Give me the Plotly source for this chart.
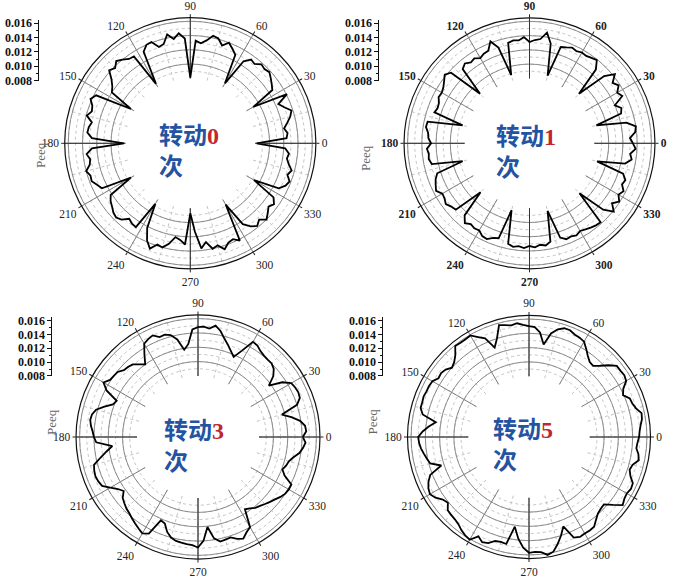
import plotly.graph_objects as go

# ---------------- data ----------------
THETA = [0, 3, 6, 9, 12, 15, 18, 21, 24, 27, 30, 33, 36, 39, 42, 45, 48, 51, 54, 57,
         60, 63, 66, 69, 72, 75, 78, 81, 84, 87, 90, 93, 96, 99, 102, 105, 108, 111, 114, 117,
         120, 123, 126, 129, 132, 135, 138, 141, 144, 147, 150, 153, 156, 159, 162, 165, 168, 171, 174, 177,
         180, 183, 186, 189, 192, 195, 198, 201, 204, 207, 210, 213, 216, 219, 222, 225, 228, 231, 234, 237,
         240, 243, 246, 249, 252, 255, 258, 261, 264, 267, 270, 273, 276, 279, 282, 285, 288, 291, 294, 297,
         300, 303, 306, 309, 312, 315, 318, 321, 324, 327, 330, 333, 336, 339, 342, 345, 348, 351, 354, 357]

PEEQ_0 = [0.0082, 0.0124, 0.0126, 0.0122, 0.0128, 0.0134, 0.0138, 0.0130, 0.0124, 0.0141,
          0.0091, 0.0126, 0.0130, 0.0134, 0.0138, 0.0136, 0.0138, 0.0132, 0.0134, 0.0126,
          0.0086, 0.0128, 0.0134, 0.0140, 0.0133, 0.0141, 0.0143, 0.0135, 0.0130, 0.0133,
          0.0081, 0.0136, 0.0144, 0.0137, 0.0145, 0.0133, 0.0131, 0.0141, 0.0140, 0.0133,
          0.0085, 0.0134, 0.0135, 0.0140, 0.0144, 0.0138, 0.0142, 0.0131, 0.0124, 0.0120,
          0.0085, 0.0137, 0.0142, 0.0136, 0.0134, 0.0139, 0.0130, 0.0133, 0.0134, 0.0127,
          0.0082, 0.0127, 0.0135, 0.0131, 0.0133, 0.0140, 0.0136, 0.0137, 0.0132, 0.0128,
          0.0085, 0.0122, 0.0127, 0.0130, 0.0134, 0.0136, 0.0133, 0.0125, 0.0128, 0.0129,
          0.0087, 0.0122, 0.0138, 0.0147, 0.0138, 0.0140, 0.0133, 0.0122, 0.0125, 0.0131,
          0.0087, 0.0113, 0.0137, 0.0129, 0.0140, 0.0137, 0.0145, 0.0138, 0.0136, 0.0142,
          0.0088, 0.0124, 0.0133, 0.0138, 0.0133, 0.0140, 0.0135, 0.0130, 0.0134, 0.0128,
          0.0092, 0.0128, 0.0135, 0.0138, 0.0132, 0.0136, 0.0130, 0.0126, 0.0128, 0.0122]

PEEQ_1 = [0.0134, 0.0130, 0.0138, 0.0140, 0.0128, 0.0086, 0.0124, 0.0127, 0.0120, 0.0135,
          0.0131, 0.0138, 0.0133, 0.0143, 0.0130, 0.0087, 0.0128, 0.0139, 0.0137, 0.0135,
          0.0136, 0.0134, 0.0136, 0.0133, 0.0131, 0.0087, 0.0132, 0.0146, 0.0136, 0.0134,
          0.0131, 0.0138, 0.0134, 0.0135, 0.0133, 0.0088, 0.0130, 0.0142, 0.0131, 0.0130,
          0.0127, 0.0131, 0.0129, 0.0133, 0.0129, 0.0087, 0.0137, 0.0142, 0.0137, 0.0133,
          0.0131, 0.0132, 0.0128, 0.0127, 0.0129, 0.0086, 0.0135, 0.0136, 0.0132, 0.0131,
          0.0127, 0.0133, 0.0131, 0.0132, 0.0129, 0.0086, 0.0125, 0.0130, 0.0133, 0.0136,
          0.0130, 0.0131, 0.0134, 0.0130, 0.0128, 0.0086, 0.0125, 0.0133, 0.0129, 0.0131,
          0.0130, 0.0135, 0.0136, 0.0131, 0.0129, 0.0086, 0.0133, 0.0136, 0.0134, 0.0136,
          0.0133, 0.0135, 0.0132, 0.0134, 0.0130, 0.0087, 0.0128, 0.0133, 0.0132, 0.0134,
          0.0131, 0.0133, 0.0135, 0.0137, 0.0138, 0.0088, 0.0128, 0.0141, 0.0132, 0.0139,
          0.0133, 0.0137, 0.0131, 0.0133, 0.0127, 0.0087, 0.0126, 0.0134, 0.0131, 0.0138]

PEEQ_3 = [0.0141, 0.0146, 0.0145, 0.0139, 0.0128, 0.0116, 0.0140, 0.0147, 0.0148, 0.0147,
          0.0145, 0.0135, 0.0117, 0.0130, 0.0137, 0.0140, 0.0140, 0.0141, 0.0143, 0.0147,
          0.0148, 0.0130, 0.0117, 0.0123, 0.0130, 0.0137, 0.0146, 0.0152, 0.0147, 0.0149,
          0.0148, 0.0145, 0.0125, 0.0118, 0.0134, 0.0142, 0.0145, 0.0144, 0.0150, 0.0148,
          0.0145, 0.0132, 0.0120, 0.0125, 0.0131, 0.0133, 0.0134, 0.0139, 0.0140, 0.0141,
          0.0147, 0.0138, 0.0119, 0.0122, 0.0132, 0.0142, 0.0146, 0.0147, 0.0145, 0.0142,
          0.0140, 0.0137, 0.0115, 0.0124, 0.0134, 0.0145, 0.0147, 0.0148, 0.0147, 0.0145,
          0.0136, 0.0128, 0.0123, 0.0130, 0.0133, 0.0136, 0.0138, 0.0141, 0.0144, 0.0147,
          0.0150, 0.0146, 0.0122, 0.0124, 0.0134, 0.0140, 0.0143, 0.0144, 0.0145, 0.0146,
          0.0149, 0.0140, 0.0121, 0.0138, 0.0144, 0.0143, 0.0142, 0.0147, 0.0150, 0.0144,
          0.0140, 0.0115, 0.0118, 0.0122, 0.0124, 0.0127, 0.0130, 0.0133, 0.0137, 0.0140,
          0.0141, 0.0141, 0.0127, 0.0121, 0.0124, 0.0126, 0.0131, 0.0138, 0.0142, 0.0145]

PEEQ_5 = [0.0149, 0.0150, 0.0152, 0.0155, 0.0156, 0.0150, 0.0147, 0.0146, 0.0139, 0.0143,
          0.0152, 0.0154, 0.0153, 0.0153, 0.0145, 0.0136, 0.0129, 0.0130, 0.0135, 0.0142,
          0.0149, 0.0151, 0.0152, 0.0155, 0.0155, 0.0151, 0.0143, 0.0126, 0.0142, 0.0149,
          0.0150, 0.0152, 0.0155, 0.0153, 0.0155, 0.0157, 0.0140, 0.0129, 0.0146, 0.0152,
          0.0159, 0.0158, 0.0158, 0.0159, 0.0149, 0.0143, 0.0140, 0.0145, 0.0147, 0.0146,
          0.0151, 0.0152, 0.0152, 0.0153, 0.0152, 0.0152, 0.0147, 0.0127, 0.0136, 0.0144,
          0.0150, 0.0149, 0.0147, 0.0144, 0.0141, 0.0138, 0.0124, 0.0143, 0.0149, 0.0153,
          0.0155, 0.0151, 0.0144, 0.0141, 0.0148, 0.0149, 0.0150, 0.0152, 0.0156, 0.0159,
          0.0161, 0.0151, 0.0156, 0.0154, 0.0148, 0.0147, 0.0148, 0.0122, 0.0138, 0.0150,
          0.0157, 0.0156, 0.0157, 0.0162, 0.0159, 0.0150, 0.0140, 0.0129, 0.0149, 0.0152,
          0.0151, 0.0151, 0.0150, 0.0144, 0.0139, 0.0137, 0.0136, 0.0146, 0.0157, 0.0154,
          0.0153, 0.0155, 0.0154, 0.0147, 0.0143, 0.0145, 0.0152, 0.0150, 0.0146, 0.0147]

RADIAL_RANGE = [0.00799, 0.0165]
RADIAL_TICKS = [0.008, 0.010, 0.012, 0.014, 0.016]
RADIAL_TICK_LABELS = ["0.008", "0.010", "0.012", "0.014", "0.016"]
ANGLE_TICKS = [0, 30, 60, 90, 120, 150, 180, 210, 240, 270, 300, 330]
ANGLE_LABELS = ["0", "30", "60", "90", "120", "150", "180", "210", "240", "270", "300", "330"]
TURN_COUNTS = ["0", "1", "3", "5"]
TITLE_CN = "转动"
TITLE_CN2 = "次"
RADIAL_TITLE = "Peeq"

# ---------------- layout helpers ----------------
W, H = 682, 580
NLAYERS = 5


def px(x):
    return x / W


def py(y):
    return 1 - y / H


panels = [
    dict(data=PEEQ_0, cx=190.3, cy=143.3, R=125.6, hole=0.517, axx=39.3, ybot=80.7, ytop=19.7,
         peeq=(30.5, 140), txt=(157, 149), bold=False),
    dict(data=PEEQ_1, cx=529.5, cy=143.3, R=125.5, hole=0.517, axx=379.3, ybot=80.7, ytop=19.7,
         peeq=(365, 143), txt=(494, 150), bold=True),
    dict(data=PEEQ_3, cx=198.0, cy=437.0, R=122.0, hole=0.50, axx=52.3, ybot=376.0, ytop=317.2,
         peeq=(41.5, 437), txt=(162, 444), bold=False),
    dict(data=PEEQ_5, cx=529.0, cy=437.0, R=121.5, hole=0.50, axx=383.3, ybot=376.0, ytop=317.2,
         peeq=(371.5, 437), txt=(491, 443), bold=False),
]

SERIF = "Liberation Serif, Times New Roman, serif"
CJK = "Noto Sans CJK SC, Noto Sans, sans-serif"
BLUE = "#2453a2"
RED = "#c0282d"

fig = go.Figure()
layout = dict(width=W, height=H, margin=dict(l=0, r=0, t=0, b=0, pad=0), autosize=False,
              paper_bgcolor="white", plot_bgcolor="white", showlegend=False,
              template="none")
annotations = []

for i, p in enumerate(panels):
    dom = dict(x=[px(p["cx"] - p["R"]), px(p["cx"] + p["R"])],
               y=[py(p["cy"] + p["R"]), py(p["cy"] - p["R"])])
    base = i * NLAYERS
    for layer in range(1, NLAYERS + 1):
        k = base + layer
        name = "polar" if k == 1 else f"polar{k}"
        radial = dict(range=RADIAL_RANGE, showticklabels=False, ticks="", showline=False,
                      showgrid=False)
        angular = dict(direction="counterclockwise", rotation=0, showline=False,
                       showticklabels=False, ticks="", showgrid=False)
        hole = p["hole"]
        bg = "rgba(0,0,0,0)"
        if layer == 1:
            radial.update(tickmode="linear", tick0=0.008, dtick=0.001, showgrid=True,
                          gridcolor="#c4c4c4", griddash="dot", gridwidth=1)
            angular.update(tickmode="linear", tick0=0, dtick=15, showgrid=True,
                           gridcolor="#c4c4c4", griddash="dot", gridwidth=1)
            bg = "white"
        elif layer == 2:
            radial.update(tickmode="array", tickvals=RADIAL_TICKS, showgrid=True,
                          gridcolor="#8c8c8c", gridwidth=1)
            angular.update(tickmode="array", tickvals=ANGLE_TICKS, showgrid=True,
                           gridcolor="#808080", gridwidth=1)
        elif layer == 3:
            angular.update(tickmode="array", tickvals=[0, 90, 180, 270], showgrid=True,
                           gridcolor="#333333", gridwidth=1)
        elif layer == 4:
            # outer frame circle only (no hole, so no inner ring is drawn)
            hole = 0
            angular.update(showline=True, linecolor="#111111", linewidth=1.2)
        else:
            angular.update(tickmode="array", tickvals=ANGLE_TICKS, ticktext=ANGLE_LABELS,
                           showticklabels=True, ticks="outside", ticklen=3, tickwidth=1,
                           tickcolor="#222",
                           tickfont=dict(family=SERIF, size=11.5, color="#222",
                                         weight="bold" if p["bold"] else "normal"))
        layout[name] = dict(domain=dom, hole=hole, bgcolor=bg,
                            radialaxis=radial, angularaxis=angular)
        if layer < NLAYERS:
            fig.add_trace(go.Scatterpolar(r=[], theta=[], subplot=name, mode="lines",
                                          hoverinfo="skip"))
        else:
            fig.add_trace(go.Scatterpolar(r=p["data"] + p["data"][:1],
                                          theta=THETA + [THETA[0] + 360], subplot=name,
                                          mode="lines",
                                          line=dict(color="black", width=1.8),
                                          hoverinfo="skip"))

    # left-hand radial scale
    n = i + 1
    xa = "xaxis" if n == 1 else f"xaxis{n}"
    ya = "yaxis" if n == 1 else f"yaxis{n}"
    xr = "x" if n == 1 else f"x{n}"
    yr = "y" if n == 1 else f"y{n}"
    layout[xa] = dict(domain=[px(p["axx"]), px(p["axx"] + 3)], visible=False,
                      range=[0, 1], anchor=yr)
    layout[ya] = dict(domain=[py(p["ybot"]), py(p["ytop"])], range=RADIAL_RANGE,
                      anchor=xr, tickmode="array", tickvals=RADIAL_TICKS,
                      ticktext=RADIAL_TICK_LABELS, ticks="outside", ticklen=4,
                      tickwidth=1, tickcolor="#111", showline=True, linecolor="#111",
                      linewidth=1, showgrid=False, zeroline=False,
                      minor=dict(ticks="outside", ticklen=2, tickwidth=1, tickcolor="#111",
                                 tickmode="linear", tick0=0.008, dtick=0.001),
                      tickfont=dict(family=SERIF, size=12, color="#111", weight="bold"))
    fig.add_trace(go.Scatter(x=[], y=[], xaxis=xr, yaxis=yr, hoverinfo="skip"))

    annotations.append(dict(text=RADIAL_TITLE, x=px(p["peeq"][0]), y=py(p["peeq"][1]),
                            xref="paper", yref="paper", showarrow=False, textangle=-90,
                            font=dict(family=SERIF, size=13, color="#666")))
    annotations.append(dict(
        text=(f"{TITLE_CN}<span style='color:{RED};font-family:Liberation Serif'>"
              f"{TURN_COUNTS[i]}</span><br>{TITLE_CN2}"),
        x=px(p["txt"][0]), y=py(p["txt"][1]), xref="paper", yref="paper",
        xanchor="left", yanchor="middle", align="left", showarrow=False,
        font=dict(family=CJK, size=24, color=BLUE, weight="bold")))

layout["annotations"] = annotations
fig.update_layout(**layout)
fig.write_html("out.html", config={"displayModeBar": False, "staticPlot": True},
               post_script="document.body.style.margin='0';document.body.style.padding='0';")
